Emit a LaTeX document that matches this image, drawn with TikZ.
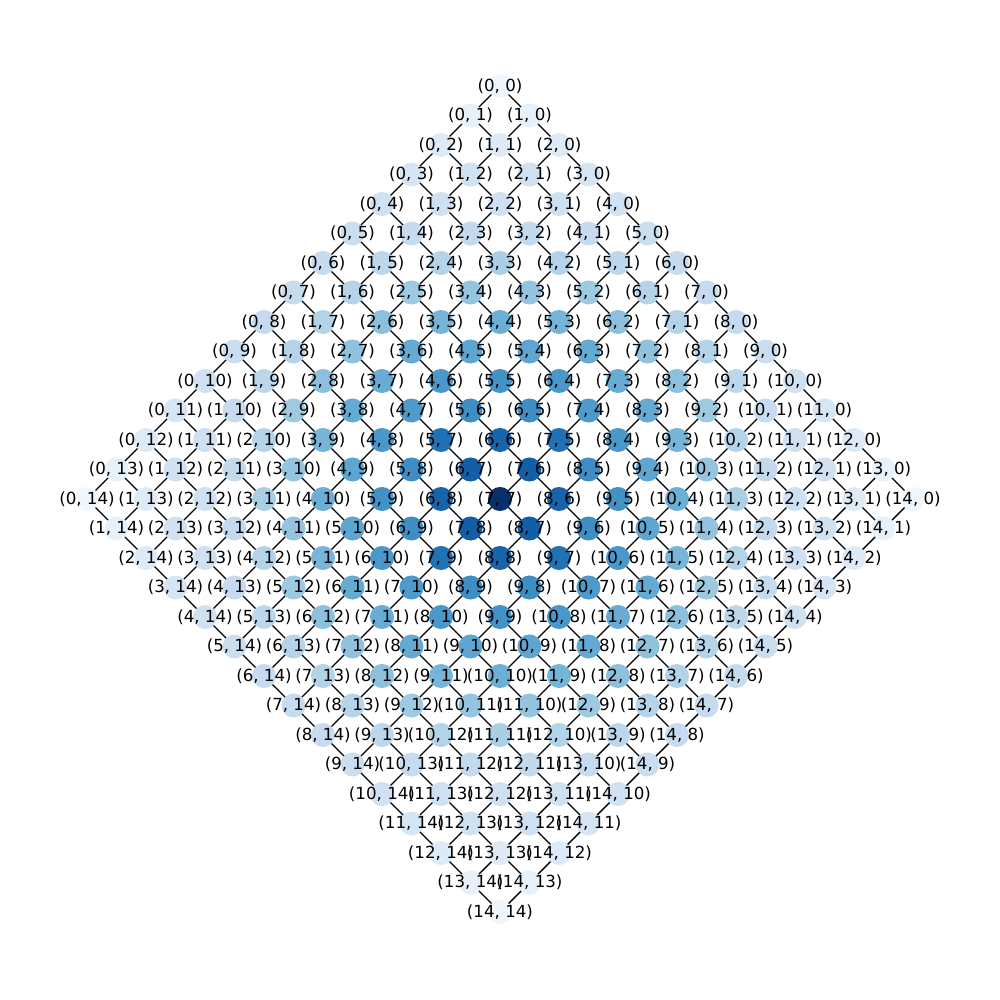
\documentclass[tikz,border=0pt]{standalone}
\usepackage{fontspec}
\setmainfont{DejaVu Sans}
\pgfdeclarelayer{bg}
\pgfdeclarelayer{mid}
\pgfsetlayers{bg,mid,main}
% estimated normalised values per symmetry class (index a*8+b, a<=b<=7)
\def\tvals{{0.04,0.08,0.13,0.17,0.20,0.23,0.25,0.25,
0,0.125,0.20,0.21,0.25,0.28,0.30,0.31,
0,0,0.21,0.26,0.31,0.375,0.42,0.41,
0,0,0,0.34,0.40,0.47,0.52,0.51,
0,0,0,0,0.50,0.54,0.60,0.59,
0,0,0,0,0,0.625,0.64,0.75,
0,0,0,0,0,0,0.80,0.82,
0,0,0,0,0,0,0,1.0}}
% Blues colormap stops
\def\Rv{{0.969,0.871,0.776,0.620,0.420,0.259,0.129,0.031,0.031}}
\def\Gv{{0.984,0.922,0.859,0.792,0.682,0.573,0.443,0.318,0.188}}
\def\Bv{{1.000,0.969,0.937,0.882,0.839,0.776,0.710,0.612,0.420}}
\tikzset{
  lbl/.style={inner sep=0pt, font=\fontsize{12}{14}\selectfont, text=black},
  edge/.style={draw=black, line width=1pt},
}
\begin{document}
\begin{tikzpicture}[x=0.72pt,y=-0.72pt]
\useasboundingbox (0,0) rectangle (1000,1000);
\foreach \i in {0,...,14}{
  \foreach \j in {0,...,14}{
    \pgfmathtruncatemacro\ia{min(\i,14-\i)}
    \pgfmathtruncatemacro\ja{min(\j,14-\j)}
    \pgfmathtruncatemacro\ka{min(\ia,\ja)*8+max(\ia,\ja)}
    \pgfmathsetmacro\tv{\tvals[\ka]}
    \pgfmathsetmacro\s{\tv*8}
    \pgfmathtruncatemacro\k{min(floor(\s),7)}
    \pgfmathtruncatemacro\kk{\k+1}
    \pgfmathsetmacro\f{\s-\k}
    \pgfmathsetmacro\rr{\Rv[\k]+\f*(\Rv[\kk]-\Rv[\k])}
    \pgfmathsetmacro\gg{\Gv[\k]+\f*(\Gv[\kk]-\Gv[\k])}
    \pgfmathsetmacro\bb{\Bv[\k]+\f*(\Bv[\kk]-\Bv[\k])}
    \definecolor{nc}{rgb}{\rr,\gg,\bb}
    \node[lbl] (n-\i-\j) at ({500+(\i-\j)*29.5},{86+(\i+\j)*29.5}) {(\i, \j)};
    \begin{pgfonlayer}{mid}
      \fill[nc] (n-\i-\j.center) circle[radius=8.66pt];
    \end{pgfonlayer}
  }
}
\begin{pgfonlayer}{bg}
\foreach \i in {0,...,14}{
  \foreach \j in {0,...,14}{
    \pgfmathtruncatemacro\ni{\i+1}
    \pgfmathtruncatemacro\nj{\j+1}
    \ifnum\i<14 \draw[edge] (n-\i-\j.center) -- (n-\ni-\j.center);\fi
    \ifnum\j<14 \draw[edge] (n-\i-\j.center) -- (n-\i-\nj.center);\fi
  }
}
\end{pgfonlayer}
\end{tikzpicture}
\end{document}
